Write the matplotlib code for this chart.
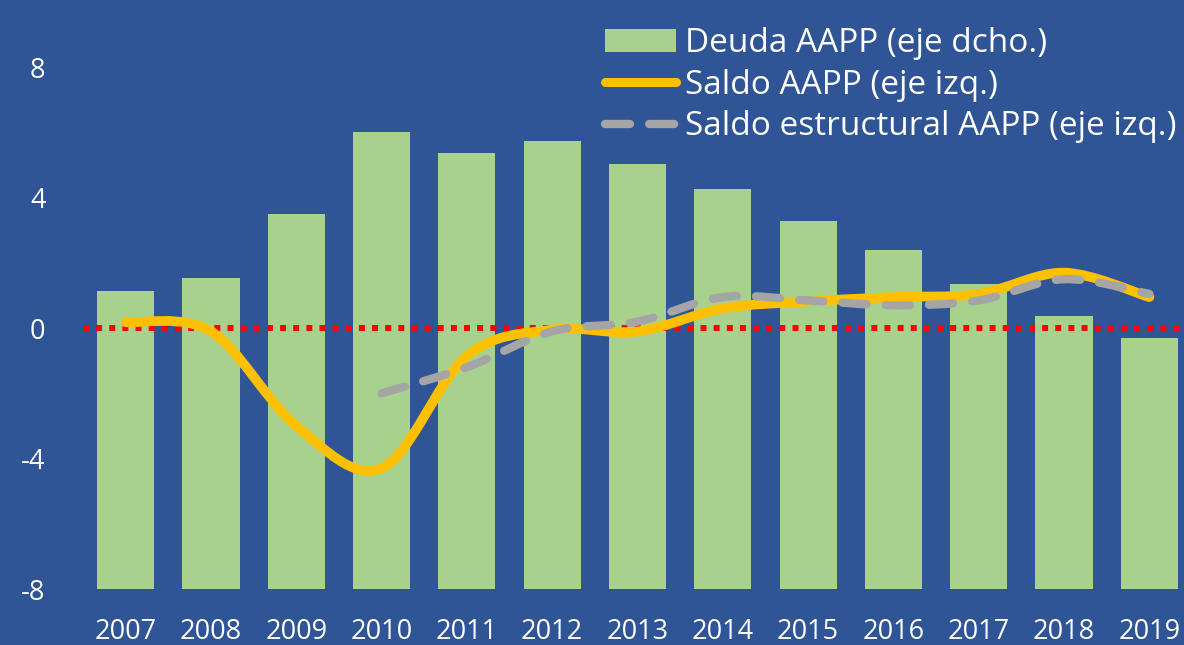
import numpy as np
import matplotlib
matplotlib.use("Agg")
import matplotlib.pyplot as plt
from matplotlib.path import Path
from matplotlib.patches import PathPatch
from matplotlib.lines import Line2D
from matplotlib.patches import Patch

plt.rcParams['font.family'] = ['Open Sans', 'DejaVu Sans']

# data
years = ['2007', '2008', '2009', '2010', '2011', '2012', '2013',
         '2014', '2015', '2016', '2017', '2018', '2019']
deuda = [9.13, 9.53, 11.51, 14.02, 13.37, 13.74, 13.04,
         12.27, 11.27, 10.41, 9.34, 8.37, 7.69]          # right axis (hidden)
saldo = [0.18, -0.1, -3.0, -4.3, -0.85, -0.05, -0.1,
         0.6, 0.82, 0.95, 1.05, 1.7, 0.95]
estructural_years = ['2010', '2011', '2012', '2013', '2014', '2015',
                     '2016', '2017', '2018', '2019']
estructural = [-2.0, -1.2, -0.1, 0.2, 0.95, 0.85, 0.7, 0.85, 1.5, 1.05]

BG = '#2F5597'
GREEN = '#A9D18E'
GOLD = '#FFC000'
GREY = '#A5A5A5'
DASH = (0, (2.9, 2.3))


def smooth_path(x, y):
    # Excel-like smoothed line: cubic bezier through the points
    pts = np.column_stack([np.asarray(x, float), np.asarray(y, float)])
    n = len(pts)
    verts = [pts[0]]
    codes = [Path.MOVETO]
    for i in range(n - 1):
        p0 = pts[i - 1] if i > 0 else pts[i]
        p1 = pts[i]
        p2 = pts[i + 1]
        p3 = pts[i + 2] if i + 2 < n else pts[i + 1]
        verts += [p1 + (p2 - p0) / 6.0, p2 - (p3 - p1) / 6.0, p2]
        codes += [Path.CURVE4] * 3
    return Path(verts, codes)


fig = plt.figure(figsize=(11.84, 6.45), dpi=100, facecolor=BG)
ax2 = fig.add_axes([83 / 1184, 1 - 589 / 645, (1192 - 83) / 1184, 587 / 645])
ax = ax2.twinx()
ax2.set_zorder(1)
ax.set_zorder(2)
for a in (ax, ax2):
    a.patch.set_visible(False)
    for s in a.spines.values():
        s.set_visible(False)

xpos = np.arange(len(years))
ax2.bar(xpos, deuda, width=0.67, color=GREEN)
ax2.set_ylim(0, 18)
ax2.set_yticks([])
ax2.set_xlim(-0.5, 12.5)
ax2.set_xticks(xpos)
ax2.set_xticklabels(years)
ax2.tick_params(axis='x', length=0, pad=21, labelsize=19.5, colors='white')

ax.set_ylim(-8, 10)
ax.set_xlim(-0.5, 12.5)
ax.axhline(0, color='#FF0000', lw=4.3, linestyle=(0, (1, 1.2)),
           dash_capstyle='butt', zorder=1)

sx = [years.index(y) for y in estructural_years]
ax.add_patch(PathPatch(smooth_path(xpos, saldo), fill=False, edgecolor=GOLD,
                       lw=7, capstyle='round', joinstyle='round', zorder=3))
ax.add_patch(PathPatch(smooth_path(sx, estructural), fill=False, edgecolor=GREY,
                       lw=6, linestyle=DASH, capstyle='round',
                       joinstyle='round', zorder=4))

ax.yaxis.tick_left()
ax.set_yticks([-8, -4, 0, 4, 8])
ax.set_yticklabels(['-8', '-4', '0', '4', '8'])
ax.tick_params(axis='y', length=0, pad=27, labelsize=19.5, colors='white')

handles = [Patch(facecolor=GREEN, edgecolor='none'),
           Line2D([], [], color=GOLD, lw=6.5, solid_capstyle='round'),
           Line2D([], [], color=GREY, lw=6, linestyle=(0, (3.0, 2.3)),
                  dash_capstyle='round')]
labels = ['Deuda AAPP (eje dcho.)', 'Saldo AAPP (eje izq.)',
          'Saldo estructural AAPP (eje izq.)']
fig.legend(handles, labels, loc='upper left',
           bbox_to_anchor=(605 / 1184, 1 - 27 / 645), frameon=False,
           fontsize=24, labelcolor='white', borderpad=0, borderaxespad=0,
           handlelength=2.13, handletextpad=0.27, labelspacing=0.26,
           handleheight=0.7)

fig.savefig('out.png', dpi=100, facecolor=BG)
